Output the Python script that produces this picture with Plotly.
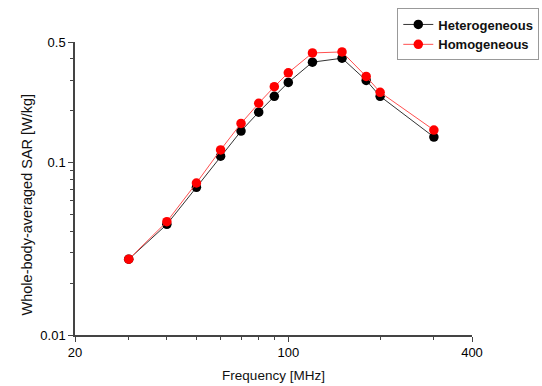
import plotly.graph_objects as go

freq = [30, 40, 50, 60, 70, 80, 90, 100, 120, 150, 180, 200, 300]
hetero = [0.0275, 0.0438, 0.0718, 0.1088, 0.1522, 0.196, 0.2422, 0.2916, 0.382, 0.4026, 0.2995, 0.2422, 0.1406]
homo = [0.0275, 0.0454, 0.0761, 0.1184, 0.1685, 0.2207, 0.2753, 0.3315, 0.432, 0.438, 0.3157, 0.2555, 0.1543]

x_ticks = [20, 100, 400]
x_minor = [30, 40, 50, 60, 70, 80, 90, 200, 300]
y_ticks = [0.01, 0.1, 0.5]
y_ticktext = ["0.01", "0.1", "0.5"]
y_minor = [0.02, 0.03, 0.04, 0.05, 0.06, 0.07, 0.08, 0.09, 0.2, 0.3, 0.4]

FONT = "Liberation Sans, Arial, sans-serif"

fig = go.Figure()
fig.add_trace(go.Scatter(
    x=freq, y=hetero, name="<b>Heterogeneous</b>", mode="lines+markers",
    line=dict(color="#333333", width=1),
    marker=dict(color="#000000", size=9.5, symbol="circle"),
))
fig.add_trace(go.Scatter(
    x=freq, y=homo, name="<b>Homogeneous</b>", mode="lines+markers",
    line=dict(color="#ff5050", width=1),
    marker=dict(color="#ff0000", size=9.5, symbol="circle"),
))

axis_common = dict(
    showgrid=False, zeroline=False, showline=True, linecolor="#444444", linewidth=1.5,
    ticks="outside", ticklen=5, tickwidth=1.2, tickcolor="#444444",
    tickfont=dict(family=FONT, size=13, color="#000000"),
    mirror=False,
)

fig.update_xaxes(
    type="log", range=[1.30103, 2.60206],
    tickvals=x_ticks, ticktext=[str(v) for v in x_ticks],
    minor=dict(tickvals=x_minor, ticklen=3, tickwidth=1, tickcolor="#444444", ticks="outside"),
    title=dict(text="Frequency [MHz]", font=dict(family=FONT, size=13.5, color="#111111"), standoff=11),
    **axis_common,
)
fig.update_yaxes(
    type="log", range=[-2, -0.30103],
    tickvals=y_ticks, ticktext=y_ticktext,
    minor=dict(tickvals=y_minor, ticklen=3, tickwidth=1, tickcolor="#444444", ticks="outside"),
    title=dict(text=""),
    **axis_common,
)

fig.add_annotation(
    text="Whole-body-averaged SAR [W/kg]", textangle=-90,
    xref="paper", yref="paper", x=-0.122, y=0.444, xanchor="center", yanchor="middle",
    showarrow=False, font=dict(family=FONT, size=14.5, color="#111111"),
)

fig.update_layout(
    width=542, height=386,
    margin=dict(l=74.5, r=70, t=42, b=51, autoexpand=False),
    paper_bgcolor="white", plot_bgcolor="white",
    showlegend=True,
    legend=dict(
        x=0.995, y=0.978, xref="container", yref="container", xanchor="right", yanchor="top",
        bgcolor="white", bordercolor="#999999", borderwidth=1,
        font=dict(family=FONT, size=13, color="#111111"),
        tracegroupgap=0, itemwidth=30,
    ),
)

fig.write_html("out.html")
